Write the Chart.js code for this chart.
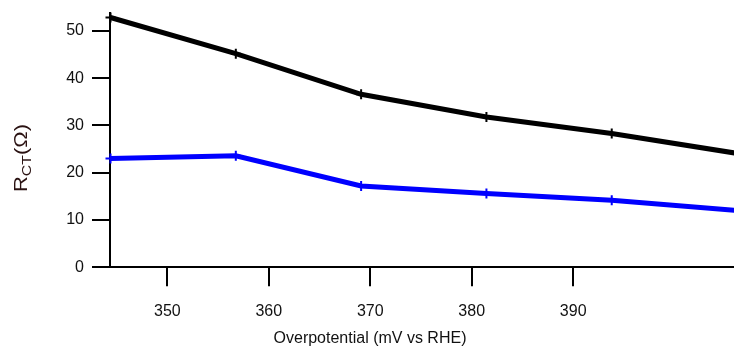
<!DOCTYPE html>
<html>
<head>
<meta charset="utf-8">
<script src="https://cdn.jsdelivr.net/npm/chart.js@4/dist/chart.umd.min.js"></script>
<style>
  html, body { margin: 0; padding: 0; background: #fff; }
  #wrap { width: 734px; height: 351px; position: relative; }
</style>
</head>
<body>
<div id="wrap"><canvas id="c"></canvas></div>
<script>
// Overpotential (mV vs RHE) at which the charge-transfer resistance was measured
const overpotential = [344.4, 356.75, 369.1, 381.45, 393.8, 406.15];
// Charge-transfer resistance (Ω) for the two samples
const rctBlack = [52.85, 45.2, 36.6, 31.8, 28.3, 24.1];
const rctBlue = [23.0, 23.6, 17.2, 15.6, 14.2, 12.0];
// Axis ticks
const xTicks = [350, 360, 370, 380, 390];
const yTicks = [0, 10, 20, 30, 40, 50];

const FONT = "'Liberation Sans', Arial, sans-serif";

function toPoints(xs, ys) {
  return xs.map((x, i) => ({ x: x, y: ys[i] }));
}

// Axis titles: the y title needs a subscript, so both are drawn by hand
const axisTitles = {
  id: 'axisTitles',
  afterDraw(chart) {
    const ctx = chart.ctx;
    ctx.save();
    ctx.fillStyle = '#111';
    ctx.font = '16px ' + FONT;
    ctx.textAlign = 'center';
    ctx.textBaseline = 'middle';
    ctx.fillText('Overpotential (mV vs RHE)', 370, 339);
    ctx.restore();

    // R_CT(Ω), rotated and slightly widened
    ctx.save();
    ctx.translate(27, 158);
    ctx.rotate(-Math.PI / 2);
    ctx.scale(1.22, 1);
    ctx.fillStyle = '#2a1212';
    ctx.textAlign = 'left';
    ctx.textBaseline = 'alphabetic';
    const big = '18px ' + FONT;
    const small = '13px ' + FONT;
    ctx.font = big;
    const wR = ctx.measureText('R').width;
    const wP = ctx.measureText('(Ω)').width;
    ctx.font = small;
    const wS = ctx.measureText('CT').width;
    const total = wR + wS + wP;
    let x = -total / 2;
    ctx.font = big;
    ctx.fillText('R', x, 0);
    x += wR;
    ctx.font = small;
    ctx.fillText('CT', x, 4);
    x += wS;
    ctx.font = big;
    ctx.fillText('(Ω)', x, 0);
    ctx.restore();
  }
};

// Keep the plot area flush with the canvas edges
function noScalePadding(scale) {
  scale.paddingLeft = 0;
  scale.paddingRight = 0;
  scale.paddingTop = 0;
  scale.paddingBottom = 0;
}

new Chart(document.getElementById('c'), {
  type: 'line',
  data: {
    datasets: [
      {
        data: toPoints(overpotential, rctBlack),
        borderColor: '#000',
        backgroundColor: '#000',
        borderWidth: 5,
        pointStyle: 'cross',
        pointRadius: 5,
        pointBorderWidth: 2,
        pointBorderColor: '#000',
        tension: 0,
        clip: false
      },
      {
        data: toPoints(overpotential, rctBlue),
        borderColor: '#0000ff',
        backgroundColor: '#0000ff',
        borderWidth: 5,
        pointStyle: 'cross',
        pointRadius: 5,
        pointBorderWidth: 2,
        pointBorderColor: '#0000ff',
        tension: 0,
        clip: false
      }
    ]
  },
  options: {
    responsive: true,
    maintainAspectRatio: false,
    animation: false,
    layout: { autoPadding: false, padding: { top: 13, right: 0, left: 0, bottom: 0 } },
    plugins: {
      legend: { display: false },
      tooltip: { enabled: false }
    },
    scales: {
      x: {
        type: 'linear',
        min: 344.35,
        max: 405.85,
        afterBuildTicks(scale) { scale.ticks = xTicks.map(v => ({ value: v })); },
        afterFit(scale) { scale.height = 83.7; noScalePadding(scale); },
        border: { display: true, color: '#000', width: 2 },
        grid: {
          display: true,
          drawOnChartArea: false,
          drawTicks: true,
          tickLength: 19,
          color: '#000',
          lineWidth: 2
        },
        ticks: {
          color: '#111',
          font: { family: FONT, size: 16 },
          padding: 16,
          maxRotation: 0
        }
      },
      y: {
        type: 'linear',
        min: 0,
        max: 53.8,
        afterBuildTicks(scale) { scale.ticks = yTicks.map(v => ({ value: v })); },
        afterFit(scale) { scale.width = 110; noScalePadding(scale); },
        border: { display: true, color: '#000', width: 2 },
        grid: {
          display: true,
          drawOnChartArea: false,
          drawTicks: true,
          tickLength: 18,
          color: '#000',
          lineWidth: 2
        },
        ticks: {
          color: '#111',
          font: { family: FONT, size: 16 },
          padding: 8
        }
      }
    }
  },
  plugins: [axisTitles]
});
</script>
</body>
</html>
